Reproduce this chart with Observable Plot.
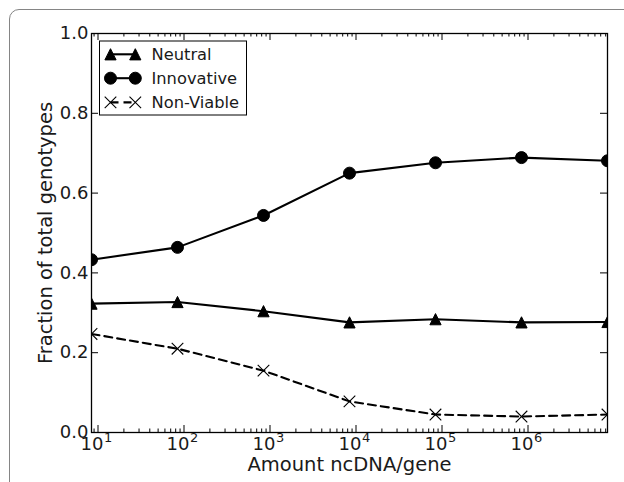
<!DOCTYPE html>
<html><head><meta charset="utf-8">
<script src="https://cdn.jsdelivr.net/npm/d3@7"></script>
<script src="https://cdn.jsdelivr.net/npm/@observablehq/plot@0.6"></script>
<style>
html,body{margin:0;padding:0;background:#fff;overflow:hidden;width:624px;height:482px}
#wrap{position:relative;width:624px;height:482px;overflow:hidden}
#wrap svg{position:absolute;left:0;top:0}
#frame{position:absolute;left:9px;top:9px;width:700px;height:600px;border:1.5px solid #858585;border-radius:10px;box-sizing:border-box;pointer-events:none;z-index:2}
</style></head><body><div id="wrap"><div id="frame"></div></div>
<script>
// ---- data ----
const amounts = [8.4, 84, 840, 8400, 84000, 840000, 8400000];
const neutral = [0.323, 0.327, 0.304, 0.276, 0.284, 0.276, 0.277];
const innovative = [0.433, 0.464, 0.544, 0.650, 0.676, 0.689, 0.681];
const nonViable = [0.247, 0.210, 0.155, 0.078, 0.045, 0.040, 0.045];
const seriesNames = ["Neutral", "Innovative", "Non-Viable"];
const xTicks = [10, 100, 1e3, 1e4, 1e5, 1e6];
const xTickBase = ["10", "10", "10", "10", "10", "10"];
const xTickExp = ["1", "2", "3", "4", "5", "6"];
const yTicks = [0, 0.2, 0.4, 0.6, 0.8, 1.0];
const yTickLabels = ["0.0", "0.2", "0.4", "0.6", "0.8", "1.0"];
const xLabel = "Amount ncDNA/gene";
const yLabel = "Fraction of total genotypes";

// ---- layout ----
const W = 624, H = 482, mL = 91, mR = 17, mT = 33, mB = 50;
const iw = W - mL - mR, ih = H - mT - mB;
const FONT = "'DejaVu Sans', 'Liberation Sans', sans-serif";

const rows = amounts.map((a, i) => ({amount: a, neutral: neutral[i], innovative: innovative[i], nonViable: nonViable[i]}));

const minorX = [];
for (let k = 0; k <= 6; k++) for (let m = 2; m <= 9; m++) {
  const v = m * Math.pow(10, k);
  if (v >= amounts[0] && v <= amounts[amounts.length - 1]) minorX.push(v);
}

const tri = {draw(ctx, size) { const h = Math.sqrt(size / Math.PI); ctx.moveTo(0, -h); ctx.lineTo(h, h); ctx.lineTo(-h, h); ctx.closePath(); }};
const cross = {draw(ctx, size) { const h = Math.sqrt(size / Math.PI); ctx.moveTo(-h, -h); ctx.lineTo(h, h); ctx.moveTo(h, -h); ctx.lineTo(-h, h); }};
const circ = {draw(ctx, size) { const h = Math.sqrt(size / Math.PI); ctx.moveTo(h, 0); ctx.arc(0, 0, h, 0, 2 * Math.PI); }};

const MAJ = 7, MIN = 3.5;
const chart = Plot.plot({
  width: W, height: H, marginLeft: mL, marginRight: mR, marginTop: mT, marginBottom: mB,
  style: {fontFamily: FONT, background: "transparent", color: "black"},
  x: {type: "log", domain: [amounts[0], amounts[amounts.length - 1]], axis: null},
  y: {domain: [0, 1], axis: null},
  marks: [
    Plot.line(rows, {x: "amount", y: "nonViable", stroke: "black", strokeWidth: 2.1, strokeDasharray: "8,5", clip: true}),
    Plot.line(rows, {x: "amount", y: "neutral", stroke: "black", strokeWidth: 2.1, clip: true}),
    Plot.line(rows, {x: "amount", y: "innovative", stroke: "black", strokeWidth: 2.1, clip: true}),
    Plot.dot(rows, {x: "amount", y: "nonViable", symbol: cross, r: 5.8, fill: "none", stroke: "black", strokeWidth: 1.1, clip: true}),
    Plot.dot(rows, {x: "amount", y: "neutral", symbol: tri, r: 5.6, fill: "black", stroke: "black", strokeWidth: 1, clip: true}),
    Plot.dot(rows, {x: "amount", y: "innovative", symbol: circ, r: 6, fill: "black", stroke: "black", strokeWidth: 1, clip: true}),
    // ticks (inward, all four sides)
    Plot.tickX(xTicks, {x: d => d, insetTop: ih - MAJ, stroke: "black", strokeWidth: 1}),
    Plot.tickX(xTicks, {x: d => d, insetBottom: ih - MAJ, stroke: "black", strokeWidth: 1}),
    Plot.tickX(minorX, {x: d => d, insetTop: ih - MIN, stroke: "black", strokeWidth: 1}),
    Plot.tickX(minorX, {x: d => d, insetBottom: ih - MIN, stroke: "black", strokeWidth: 1}),
    Plot.tickY(yTicks, {y: d => d, insetRight: iw - MAJ, stroke: "black", strokeWidth: 1}),
    Plot.tickY(yTicks, {y: d => d, insetLeft: iw - MAJ, stroke: "black", strokeWidth: 1}),
    Plot.frame({stroke: "black", strokeWidth: 1.3}),
    // tick labels
    Plot.text(xTicks, {x: d => d, text: (d, i) => xTickBase[i], frameAnchor: "bottom", textAnchor: "end", dx: 5.5, dy: 17.7, fontSize: 18, fill: "#1a1a1a"}),
    Plot.text(xTicks, {x: d => d, text: (d, i) => xTickExp[i], frameAnchor: "bottom", textAnchor: "start", dx: 6, dy: 9.8, fontSize: 13, fill: "#1a1a1a"}),
    Plot.text(yTicks, {y: d => d, text: (d, i) => yTickLabels[i], frameAnchor: "left", textAnchor: "end", dx: -3, fontSize: 18, fill: "#1a1a1a"}),
    // axis labels
    Plot.text([xLabel], {text: d => d, frameAnchor: "bottom", textAnchor: "middle", dy: 38.4, fontSize: 19.5, fill: "#1a1a1a"}),
    Plot.text([yLabel], {text: d => d, frameAnchor: "left", textAnchor: "middle", rotate: -90, dx: -45.5, fontSize: 19.5, fill: "#1a1a1a"})
  ]
});

// ---- legend ----
const svg = d3.select(chart);
const lg = svg.append("g").attr("font-family", FONT).attr("font-size", 16.3).attr("text-anchor", "start");
lg.append("rect").attr("x", 99.5).attr("y", 41).attr("width", 147).attr("height", 74)
  .attr("fill", "white").attr("stroke", "black").attr("stroke-width", 1);
const legendSpec = [
  {name: seriesNames[0], sym: tri, r: 5.6, fill: "black", dash: null, sw: 1},
  {name: seriesNames[1], sym: circ, r: 6, fill: "black", dash: null, sw: 1},
  {name: seriesNames[2], sym: cross, r: 5.8, fill: "none", dash: "8,5", sw: 1.1}
];
const rowY = [54.3, 78.2, 102.4];
legendSpec.forEach((s, i) => {
  const y = rowY[i];
  lg.append("line").attr("x1", 110.5).attr("x2", 135.3).attr("y1", y).attr("y2", y)
    .attr("stroke", "black").attr("stroke-width", 2.1).attr("stroke-dasharray", s.dash);
  [110.5, 135.3].forEach(x => {
    lg.append("path").attr("d", d3.symbol(s.sym, Math.PI * s.r * s.r)())
      .attr("transform", `translate(${x},${y})`)
      .attr("fill", s.fill).attr("stroke", "black").attr("stroke-width", s.sw);
  });
  lg.append("text").attr("x", 151.5).attr("y", y + 5.9).attr("text-anchor", "start").attr("fill", "#1a1a1a").text(s.name);
});

document.getElementById("wrap").prepend(chart);
</script></body></html>
